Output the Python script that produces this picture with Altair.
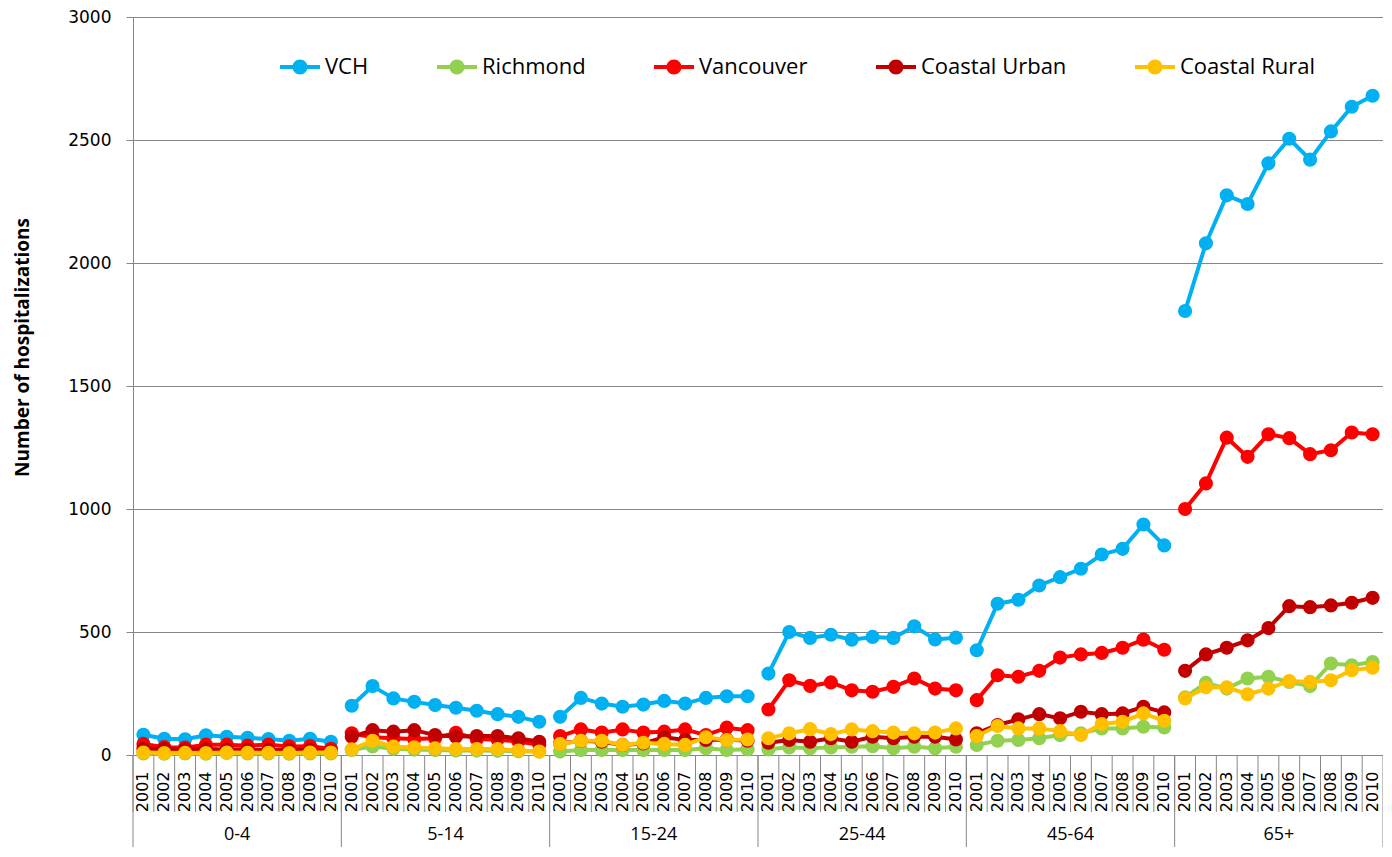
import altair as alt
import pandas as pd

groups = ["0-4", "5-14", "15-24", "25-44", "45-64", "65+"]
years = [str(y) for y in range(2001, 2011)]
series = ["VCH", "Richmond", "Vancouver", "Coastal Urban", "Coastal Rural"]
colors = ["#00B0F0", "#92D050", "#FF0000", "#C00000", "#FFC000"]

# values per series: 6 age groups x 10 years (2001-2010)
vch = [82, 66, 64, 80, 74, 70, 65, 58, 66, 54,
       200, 280, 230, 216, 203, 192, 180, 166, 155, 135,
       155, 232, 209, 196, 205, 220, 209, 232, 239, 239,
       331, 500, 476, 489, 469, 480, 476, 523, 470, 477,
       426, 615, 631, 689, 723, 757, 815, 838, 937, 852,
       1805, 2080, 2275, 2240, 2405, 2505, 2420, 2535, 2635, 2680]
richmond = [6, 5, 6, 5, 8, 6, 6, 5, 6, 6,
            20, 35, 25, 22, 20, 18, 18, 17, 15, 14,
            14, 20, 20, 20, 20, 20, 20, 27, 20, 23,
            23, 31, 27, 31, 34, 36, 27, 34, 27, 34,
            41, 58, 61, 68, 81, 88, 108, 108, 115, 112,
            234, 293, 270, 311, 318, 297, 280, 372, 365, 378]
vancouver = [45, 32, 30, 42, 42, 38, 42, 35, 36, 25,
             88, 72, 68, 65, 68, 90, 65, 62, 55, 42,
             77, 104, 91, 104, 91, 95, 104, 81, 111, 101,
             185, 304, 281, 295, 263, 257, 277, 311, 270, 263,
             223, 324, 318, 342, 396, 409, 415, 436, 469, 428,
             1000, 1104, 1290, 1212, 1304, 1288, 1223, 1239, 1311, 1304]
coastal_urban = [25, 24, 22, 24, 22, 22, 20, 20, 20, 15,
                 74, 101, 95, 101, 81, 74, 77, 77, 68, 54,
                 47, 58, 54, 41, 47, 72, 61, 61, 63, 58,
                 50, 61, 54, 68, 54, 74, 68, 74, 74, 63,
                 88, 122, 145, 166, 149, 176, 166, 169, 196, 173,
                 342, 409, 436, 466, 516, 605, 601, 608, 619, 639]
coastal_rural = [10, 8, 9, 8, 10, 9, 9, 8, 10, 10,
                 23, 58, 34, 31, 27, 24, 24, 24, 18, 14,
                 45, 58, 58, 41, 50, 45, 41, 72, 61, 63,
                 68, 88, 105, 85, 104, 97, 91, 88, 91, 108,
                 77, 118, 108, 108, 97, 81, 126, 135, 169, 139,
                 230, 275, 275, 247, 270, 301, 297, 304, 345, 355]

W, H = 1250, 738
keys = [f"{g}|{y}" for g in groups for y in years]

rows = []
for si, (s, vals) in enumerate(zip(series, [vch, richmond, vancouver, coastal_urban, coastal_rural])):
    for gi, g in enumerate(groups):
        for yi, y in enumerate(years):
            rows.append(dict(series=s, group=g, year=y, key=f"{g}|{y}",
                             value=vals[gi * 10 + yi], sidx=si))
df = pd.DataFrame(rows)

xscale = alt.Scale(domain=keys, paddingInner=0, paddingOuter=0)
yscale = alt.Scale(domain=[0, 3000], nice=False)
cscale = alt.Scale(domain=series, range=colors)

sym = ("M-1,-0.1L1,-0.1L1,0.1L-1,0.1Z "
       "M-0.375,0A0.375,0.375 0 1,1 0.375,0A0.375,0.375 0 1,1 -0.375,0Z")

legend = alt.Legend(title=None, orient="none", legendX=147, legendY=30,
                    direction="horizontal", symbolType=sym, symbolSize=1600,
                    symbolStrokeWidth=0, labelFont="Open Sans",
                    labelFontSize=22, labelColor="black", labelOffset=5,
                    columnPadding=68, labelLimit=300, symbolOpacity=1)

xaxis = alt.Axis(title=None, labelAngle=270, labelAlign="right", labelBaseline="middle",
                 labelExpr="split(datum.label, '|')[1]", ticks=False, labelPadding=16,
                 labelFont="DejaVu Sans", labelFontSize=16, labelColor="black",
                 domainColor="#868686", domainWidth=1, grid=False, labelOverlap=False)
yaxis = alt.Axis(title="Number of hospitalizations", values=[0, 500, 1000, 1500, 2000, 2500, 3000],
                 format="d",
                 labelFont="DejaVu Sans", labelFontSize=17, labelColor="black",
                 tickSize=7, tickColor="#868686", labelPadding=15, domainColor="#868686",
                 gridColor="#868686", gridWidth=1,
                 titleFont="Open Sans", titleFontWeight="bold", titleFontSize=19,
                 titleColor="black", titleX=-111, titleY=330, titleAngle=270,
                 titleAlign="center", titleBaseline="middle")

layers = []
for i, s in enumerate(series):
    b = alt.Chart(df).transform_filter(alt.datum.series == s)
    if i == 0:
        xenc = alt.X("key:N", scale=xscale, axis=xaxis, sort=keys)
        yenc = alt.Y("value:Q", scale=yscale, axis=yaxis)
    else:
        xenc = alt.X("key:N", scale=xscale, sort=keys)
        yenc = alt.Y("value:Q", scale=yscale)
    line = b.mark_line(strokeWidth=4).encode(
        x=xenc, y=yenc,
        color=alt.Color("series:N", scale=cscale, legend=legend),
        detail="group:N",
        order=alt.Order("year:N"),
    )
    pts = b.mark_point(filled=True, size=200, opacity=1).encode(
        x=alt.X("key:N", scale=xscale, sort=keys),
        y=alt.Y("value:Q", scale=yscale),
        color=alt.Color("series:N", scale=cscale, legend=legend),
    )
    layers += [line, pts]

sep_df = pd.DataFrame({"key": keys})
year_seps = alt.Chart(sep_df).mark_rule(color="#868686", strokeWidth=1).encode(
    x=alt.X("key:N", scale=xscale, bandPosition=0),
    y=alt.value(H), y2=alt.value(H + 57))
grp_df = pd.DataFrame({"key": [f"{g}|2001" for g in groups]})
grp_seps = alt.Chart(grp_df).mark_rule(color="#868686", strokeWidth=1).encode(
    x=alt.X("key:N", scale=xscale, bandPosition=0),
    y=alt.value(H), y2=alt.value(H + 92))
end_sep = alt.Chart(pd.DataFrame({"k": [0]})).mark_rule(color="#868686", strokeWidth=1).encode(
    x=alt.value(W), y=alt.value(H), y2=alt.value(H + 92))
lab_df = pd.DataFrame({"key": [f"{g}|2006" for g in groups], "group": groups})
grp_labels = alt.Chart(lab_df).mark_text(font="Open Sans", fontSize=18, color="black",
                                         baseline="middle", align="center").encode(
    x=alt.X("key:N", scale=xscale, bandPosition=0),
    y=alt.value(H + 80), text="group:N")

chart = alt.layer(*layers, year_seps, grp_seps, end_sep, grp_labels).properties(
    width=W, height=H,
    autosize=alt.AutoSizeParams(type="none"),
    padding={"left": 125, "top": 9, "right": 0, "bottom": 92},
).configure_view(stroke=None).configure(background="white")

chart.save("out.html", embed_options={"renderer": "svg", "actions": False})
